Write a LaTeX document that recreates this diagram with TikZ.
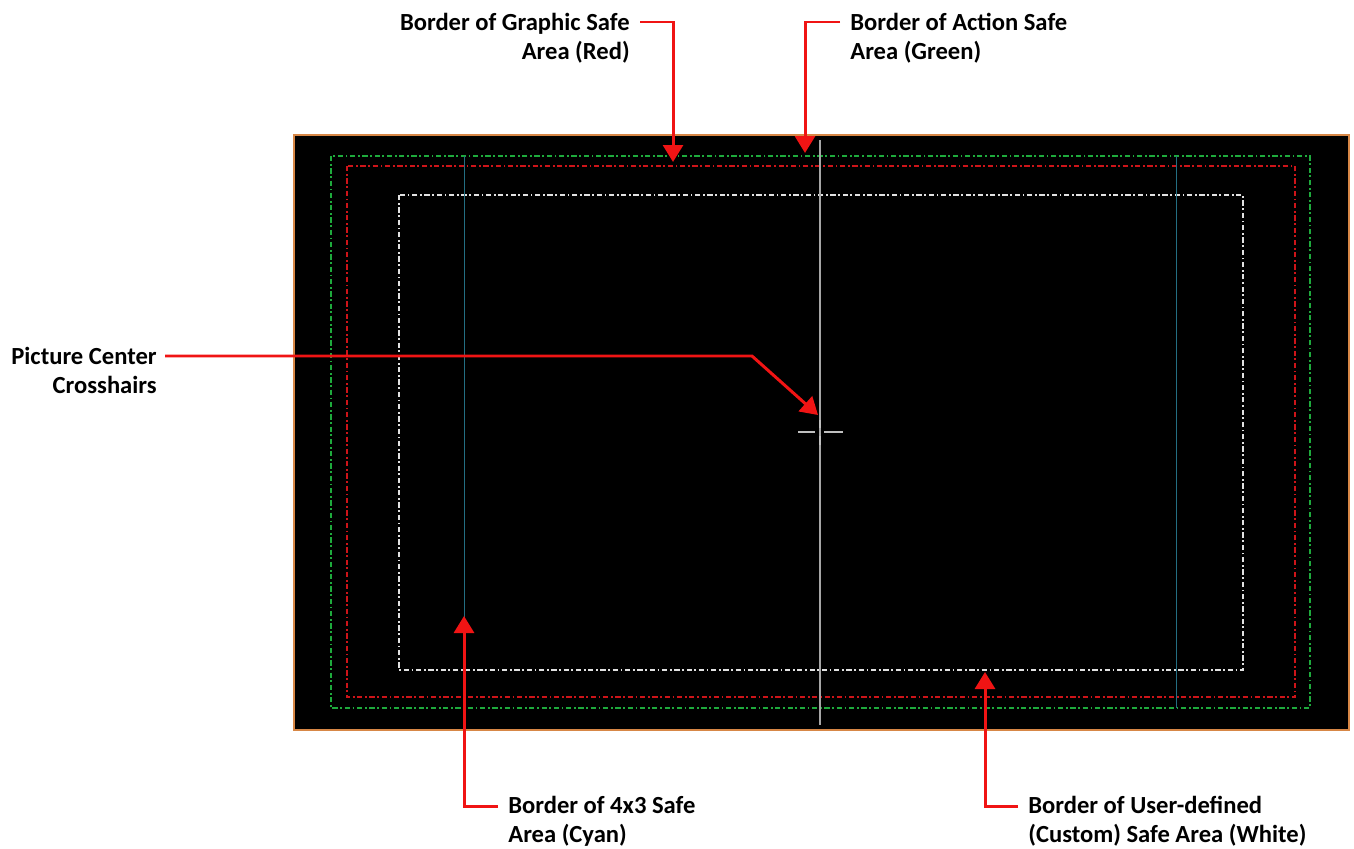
\documentclass[tikz,border=0pt]{standalone}
\usepackage{fontspec}
\setmainfont{Carlito}
\usetikzlibrary{arrows.meta}
\definecolor{calloutred}{RGB}{240,20,20}
\definecolor{actiongreen}{RGB}{30,170,60}
\definecolor{graphicred}{RGB}{205,20,25}
\definecolor{userwhite}{RGB}{225,225,225}
\definecolor{fourcyan}{RGB}{35,110,130}
\definecolor{frameorange}{RGB}{215,135,70}

\begin{document}
\begin{tikzpicture}[x=0.02cm, y=-0.02cm,
    lbl/.style={font=\fontsize{14}{16.5}\selectfont\bfseries, inner sep=0pt},
    callout/.style={draw=calloutred, line width=1.7pt,
                    -{Triangle[length=0.34cm, width=0.4cm]}},
    safe/.style={line width=1pt, dash pattern=on 3pt off 1.5pt on 1pt off 1.5pt}
  ]
  \useasboundingbox (0,0) rectangle (1354,848);

  % picture area
  \draw[frameorange, line width=1pt, fill=black] (294,135) rectangle (1349,730);
  \draw[safe, actiongreen] (331,156) rectangle (1310,708);
  \draw[safe, graphicred] (347,166) rectangle (1295,697);
  \draw[safe, userwhite] (399,195) rectangle (1243,670);
  \draw[fourcyan, line width=0.5pt] (464,156) -- (464,708);
  \draw[fourcyan, line width=0.5pt] (1176,156) -- (1176,708);

  % center line and crosshairs
  \draw[gray!70, line width=1pt] (820,140) -- (820,725);
  \draw[userwhite!85!black, line width=1.2pt] (798,432) -- (815,432) (824,432) -- (843,432)
                                     (820,420) -- (820,428) (820,436) -- (820,445);

  \coordinate (redtip) at (673,162);
  \coordinate (greentip) at (805,153);
  \coordinate (crosstip) at (818,415);
  \coordinate (bend) at (752,356);
  \coordinate (cyantip) at (464,616);
  \coordinate (whitetip) at (985,672);

  % labels
  \node[lbl, anchor=north east, align=right] (gfx) at (630,13)
    {Border of Graphic Safe\\Area (Red)};
  \node[lbl, anchor=north west, align=left] (act) at (850,13)
    {Border of Action Safe\\Area (Green)};
  \node[lbl, anchor=north east, align=right] (pcc) at (157,347)
    {Picture Center\\Crosshairs};
  \node[lbl, anchor=north west, align=left] (fxt) at (508,796)
    {Border of 4x3 Safe\\Area (Cyan)};
  \node[lbl, anchor=north west, align=left] (usr) at (1028,796)
    {Border of User-defined\\(Custom) Safe Area (White)};

  \draw[callout] ([shift={(10,9)}]gfx.north east) -| (redtip);
  \draw[callout] ([shift={(-10,9)}]act.north west) -| (greentip);
  \draw[callout] ([shift={(8,9)}]pcc.north east) -- (bend) -- (crosstip);
  \draw[callout] ([shift={(-10,10)}]fxt.north west) -| (cyantip);
  \draw[callout] ([shift={(-10,10)}]usr.north west) -| (whitetip);
\end{tikzpicture}
\end{document}
